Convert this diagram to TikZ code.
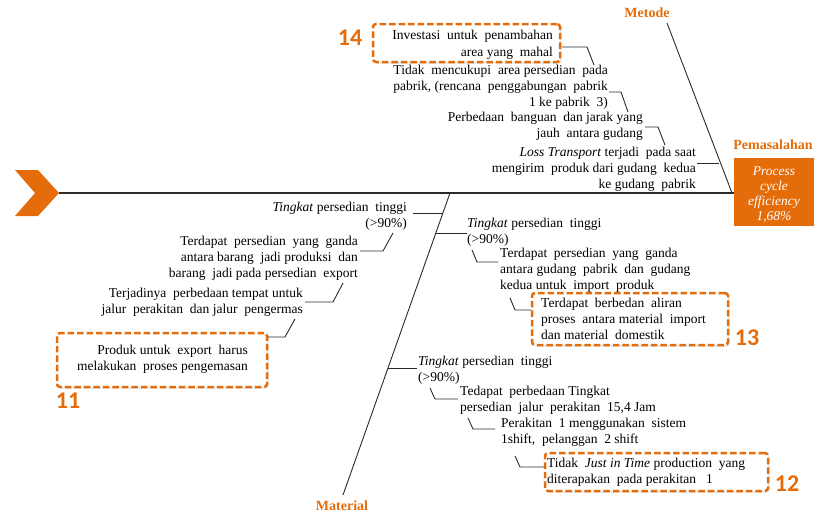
\documentclass[tikz,border=0pt]{standalone}
\usepackage{fontspec}
\setmainfont{Liberation Serif}
\newfontfamily\numfont{Carlito}
\usetikzlibrary{fit,shadows}
\definecolor{orng}{HTML}{E46C0A}
\definecolor{ink}{HTML}{2A2A2A}
\begin{document}
\begin{tikzpicture}[x=1pt,y=-1pt,
  txt/.style={inner sep=0pt, font=\fontsize{13.5}{16.4}\selectfont, text=black},
  rtxt/.style={txt, align=right, anchor=north east},
  ltxt/.style={txt, align=left, anchor=north west},
  bone/.style={draw=ink, line width=0.9pt},
  spine/.style={draw=ink, line width=1.1pt},
  dbox/.style={draw=orng, line width=2.5pt, dash pattern=on 6.5pt off 3pt, rounded corners=3pt, fill=white, inner sep=0pt,
    drop shadow={opacity=0.2, shadow xshift=1.5pt, shadow yshift=-1.5pt}},
  num/.style={font=\numfont\bfseries\fontsize{24}{24}\selectfont, text=orng, inner sep=0pt},
  lbl/.style={font=\bfseries\fontsize{14}{14}\selectfont, text=orng, inner sep=0pt},
  headbox/.style={fill=orng, inner sep=0pt, minimum width=80pt, minimum height=68pt},
  headtext/.style={inner sep=0pt, align=center, text=white, font=\itshape\fontsize{13.5}{15}\selectfont},
]
\useasboundingbox (0,0) rectangle (814,514);

% head and tail
\fill[orng] (15,170) -- (38,170) -- (59,193) -- (38,216) -- (15,216) -- (35,193) -- cycle;
\coordinate (tail) at (59,193);
\node[headbox] (head) at (774,192) {};
\node[headtext] (headtxt) at (774,195) {Process\\cycle\\efficiency\\1,68\%};
\draw[spine] (tail) -- (tail -| head.west);

% labels
\node[lbl] (metode) at (647,13) {Metode};
\node[lbl] (pemasalahan) at (773,145) {Pemasalahan};
\node[lbl] (material) at (342,506) {Material};

% main bones
\coordinate (metTop) at (667,23);
\coordinate (metBot) at (732,193);
\coordinate (matTop) at (450,193);
\coordinate (matBot) at (343,495);
\draw[bone] (metTop) -- (metBot);
\draw[bone] (matTop) -- (matBot);

% dashed boxes
\node[dbox, fit={(373,24) (560,62)}] (b14) {};
\node[dbox, fit={(57,333) (267,387)}] (b11) {};
\node[dbox, fit={(532,293) (728,345)}] (b13) {};
\node[dbox, fit={(545,453) (768,491)}] (b12) {};

% numbers
\node[num] (n14) at (350,38) {14};
\node[num] (n11) at (68,401) {11};
\node[num] (n13) at (747,338) {13};
\node[num] (n12) at (787,484) {12};

% Metode causes
\node[rtxt] (m1) at (553,27.5) {\strut Investasi \ untuk \ penambahan\\[1pt]area yang \ mahal};
\node[rtxt] (m2) at (608,62.5) {\strut Tidak \ mencukupi \ area persedian \ pada\\pabrik, (rencana \ penggabungan \ pabrik\\1 ke pabrik \ 3)};
\node[rtxt] (m3) at (643,109.5) {\strut Perbedaan \ banguan \ dan jarak yang\\jauh \ antara gudang};
\node[rtxt] (m4) at (696,144.5) {\strut\textit{Loss Transport} terjadi \ pada saat\\mengirim \ produk dari gudang \ kedua\\ke gudang \ pabrik};

\coordinate (a1) at (562,47);  \coordinate (a2) at (587,47);  \coordinate (a3) at (594,65);
\coordinate (c1) at (609,92);  \coordinate (c2) at (621,92);  \coordinate (c3) at (628,112);
\coordinate (d1) at (645,127); \coordinate (d2) at (658,127); \coordinate (d3) at (665,145);
\coordinate (e1) at (697,163); \coordinate (e2) at (719,163);
\draw[bone] (a1) -- (a2) -- (a3);
\draw[bone] (c1) -- (c2) -- (c3);
\draw[bone] (d1) -- (d2) -- (d3);
\draw[bone] (e1) -- (e2);

% Material causes, upper left
\node[rtxt] (l1) at (407,199.5) {\strut\textit{Tingkat} persedian \ tinggi\\(>90\%)};
\node[rtxt] (l2) at (358,233.5) {\strut Terdapat \ persedian \ yang \ ganda\\antara barang \ jadi produksi \ dan\\barang \ jadi pada persedian \ export};
\node[rtxt] (l3) at (303,285.5) {\strut Terjadinya \ perbedaan tempat untuk\\jalur \ perakitan \ dan jalur \ pengermas};
\node[rtxt] (l4) at (248,342.5) {\strut Produk untuk \ export \ harus\\melakukan \ proses pengemasan};

\coordinate (f1) at (413,213); \coordinate (f2) at (443,213);
\coordinate (g1) at (360,251); \coordinate (g2) at (383,251); \coordinate (g3) at (393,233);
\coordinate (h1) at (305,302); \coordinate (h2) at (333,302); \coordinate (h3) at (343,283);
\coordinate (k1) at (268,337); \coordinate (k2) at (285,337); \coordinate (k3) at (295,319);
\draw[bone] (f1) -- (f2);
\draw[bone] (g1) -- (g2) -- (g3);
\draw[bone] (h1) -- (h2) -- (h3);
\draw[bone] (k1) -- (k2) -- (k3);

% Material causes, right
\node[ltxt] (r1) at (467,215.5) {\strut\textit{Tingkat} persedian \ tinggi\\(>90\%)};
\node[ltxt] (r2) at (500,245.5) {\strut Terdapat \ persedian \ yang \ ganda\\antara gudang \ pabrik \ dan \ gudang\\kedua untuk \ import \ produk};
\node[ltxt] (r3) at (541,295.5) {\strut Terdapat \ berbedan \ aliran\\proses \ antara material \ import\\dan material \ domestik};
\node[ltxt] (r4) at (418,353.5) {\strut\textit{Tingkat} persedian \ tinggi\\(>90\%)};
\node[ltxt] (r5) at (460,383.5) {\strut Tedapat \ perbedaan Tingkat\\persedian \ jalur \ perakitan \ 15,4 Jam};
\node[ltxt] (r6) at (501,415.5) {\strut Perakitan \ 1 menggunakan \ sistem\\1shift, \ pelanggan \ 2 shift};
\node[ltxt] (r7) at (547,455.5) {\strut Tidak \ \textit{Just in Time} production \ yang\\diterapakan \ pada perakitan \ \ 1};

\coordinate (p1) at (436,233); \coordinate (p2) at (467,233);
\coordinate (q1) at (472,250); \coordinate (q2) at (477,262); \coordinate (q3) at (498,262);
\coordinate (s1) at (510,298); \coordinate (s2) at (515,310); \coordinate (s3) at (531,310);
\coordinate (t1) at (388,368); \coordinate (t2) at (417,368);
\coordinate (u1) at (430,388); \coordinate (u2) at (435,399); \coordinate (u3) at (458,399);
\coordinate (v1) at (468,418); \coordinate (v2) at (473,429); \coordinate (v3) at (495,429);
\coordinate (w1) at (515,456); \coordinate (w2) at (520,467); \coordinate (w3) at (544,467);
\draw[bone] (p1) -- (p2);
\draw[bone] (q1) -- (q2) -- (q3);
\draw[bone] (s1) -- (s2) -- (s3);
\draw[bone] (t1) -- (t2);
\draw[bone] (u1) -- (u2) -- (u3);
\draw[bone] (v1) -- (v2) -- (v3);
\draw[bone] (w1) -- (w2) -- (w3);
\end{tikzpicture}
\end{document}
